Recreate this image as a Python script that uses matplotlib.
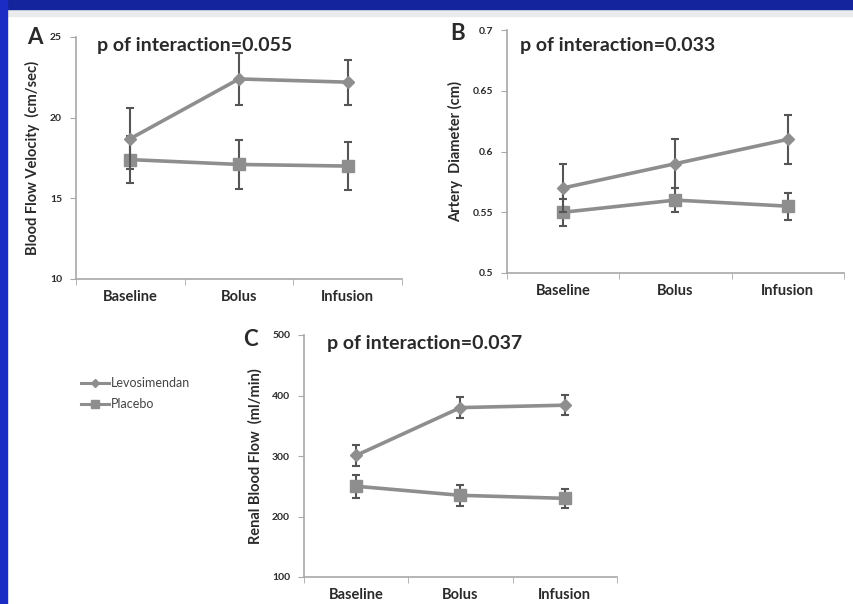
import numpy as np
import matplotlib
matplotlib.use("Agg")
import matplotlib.pyplot as plt
from matplotlib.patches import Rectangle
from matplotlib.lines import Line2D

plt.rcParams["font.family"] = ["Lato", "DejaVu Sans"]

categories = ["Baseline", "Bolus", "Infusion"]

# panel A - blood flow velocity (cm/sec)
velo_levo = [18.7, 22.4, 22.2]
velo_levo_err = [1.9, 1.6, 1.4]
velo_plac = [17.4, 17.1, 17.0]
velo_plac_err = [1.45, 1.5, 1.5]

# panel B - artery diameter (cm)
diam_levo = [0.57, 0.59, 0.61]
diam_levo_err = [0.02, 0.02, 0.02]
diam_plac = [0.55, 0.56, 0.555]
diam_plac_err = [0.011, 0.01, 0.011]

# panel C - renal blood flow (ml/min)
rbf_levo = [301, 380, 384]
rbf_levo_err = [18, 18, 17]
rbf_plac = [250, 235, 230]
rbf_plac_err = [19, 17, 16]

LINE = "#8e8e8e"
ERR = "#555555"
SPINE = "#a8a8a8"
TXT = "#2a2a2a"

fig = plt.figure(figsize=(8.54, 6.04), dpi=100)
fig.patch.set_facecolor("white")

# slide decoration: blue top band, grey strip, blue left edge
fig.patches.append(Rectangle((0, 1 - 16 / 604), 1, 7 / 604, transform=fig.transFigure,
                             color="#e9ebed", zorder=0))
fig.patches.append(Rectangle((0, 1 - 9 / 604), 1, 9 / 604, transform=fig.transFigure,
                             color="#14249c", zorder=1))
fig.patches.append(Rectangle((0, 0), 7 / 854, 1, transform=fig.transFigure,
                             color="#1b2cc4", zorder=1))


def px_axes(left, right, top, bottom):
    return fig.add_axes([left / 854, 1 - bottom / 604, (right - left) / 854, (bottom - top) / 604])


def draw_panel(ax, levo, levo_err, plac, plac_err, ylim, yticks, yticklabels, ylabel):
    x = np.arange(len(categories)) + 0.5
    ax.errorbar(x, plac, yerr=plac_err, color=LINE, lw=2.6, marker="s", ms=8,
                mfc=LINE, mec=LINE, ecolor=ERR, elinewidth=1.5, capsize=3, capthick=1.5,
                label="Placebo", zorder=3)
    ax.errorbar(x, levo, yerr=levo_err, color=LINE, lw=2.6, marker="D", ms=6.5,
                mfc=LINE, mec=LINE, ecolor=ERR, elinewidth=1.5, capsize=3, capthick=1.5,
                label="Levosimendan", zorder=4)
    ax.set_xlim(0, 3)
    ax.set_ylim(*ylim)
    ax.set_xticks(x)
    ax.set_xticklabels(categories, fontsize=10.5, fontweight="bold", color=TXT)
    ax.set_xticks([0, 1, 2, 3], minor=True)
    ax.tick_params(axis="x", which="major", length=0, pad=8)
    ax.tick_params(axis="x", which="minor", length=4, color=SPINE, direction="out")
    ax.set_yticks(yticks)
    ax.set_yticklabels(yticklabels, fontsize=7.5, fontweight="bold", color=TXT)
    ax.tick_params(axis="y", length=4, color=SPINE, pad=6)
    ax.set_ylabel(ylabel, fontsize=10.5, fontweight="bold", color=TXT, labelpad=7)
    for s in ["top", "right"]:
        ax.spines[s].set_visible(False)
    for s in ["left", "bottom"]:
        ax.spines[s].set_color(SPINE)
        ax.spines[s].set_linewidth(1.2)
    ax.patch.set_alpha(0)


axA = px_axes(76, 402, 37, 279)
draw_panel(axA, velo_levo, velo_levo_err, velo_plac, velo_plac_err, (10, 25),
           [10, 15, 20, 25], ["10", "15", "20", "25"], "Blood Flow Velocity  (cm/sec)")

axB = px_axes(507, 844, 30, 273)
draw_panel(axB, diam_levo, diam_levo_err, diam_plac, diam_plac_err, (0.5, 0.7),
           [0.5, 0.55, 0.6, 0.65, 0.7], ["0.5", "0.55", "0.6", "0.65", "0.7"],
           "Artery  Diameter (cm)")

axC = px_axes(304, 617, 335, 577)
draw_panel(axC, rbf_levo, rbf_levo_err, rbf_plac, rbf_plac_err, (100, 500),
           [100, 200, 300, 400, 500], ["100", "200", "300", "400", "500"],
           "Renal Blood Flow  (ml/min)")

# panel letters and p-values
fig.text(27 / 854, 1 - 38 / 604, "A", fontsize=16, fontweight="bold", color=TXT, va="center")
fig.text(450 / 854, 1 - 34 / 604, "B", fontsize=16, fontweight="bold", color=TXT, va="center")
fig.text(243 / 854, 1 - 340 / 604, "C", fontsize=16, fontweight="bold", color=TXT, va="center")
fig.text(97 / 854, 1 - 45 / 604, "p of interaction=0.055", fontsize=14, fontweight="bold",
         color=TXT, va="center")
fig.text(520 / 854, 1 - 45 / 604, "p of interaction=0.033", fontsize=14, fontweight="bold",
         color=TXT, va="center")
fig.text(327 / 854, 1 - 344 / 604, "p of interaction=0.037", fontsize=14, fontweight="bold",
         color=TXT, va="center")

# legend
handles = [Line2D([], [], color=LINE, lw=2.2, marker="D", ms=4, mfc=LINE, mec=LINE),
           Line2D([], [], color=LINE, lw=2.2, marker="s", ms=6, mfc=LINE, mec=LINE)]
fig.legend(handles, ["Levosimendan", "Placebo"], loc="upper left",
           bbox_to_anchor=(70 / 854, 1 - 366 / 604), frameon=False, fontsize=9,
           handlelength=2.2, handletextpad=0.2, labelspacing=0.7, labelcolor="#444444")

fig.savefig("out.png", dpi=100)
